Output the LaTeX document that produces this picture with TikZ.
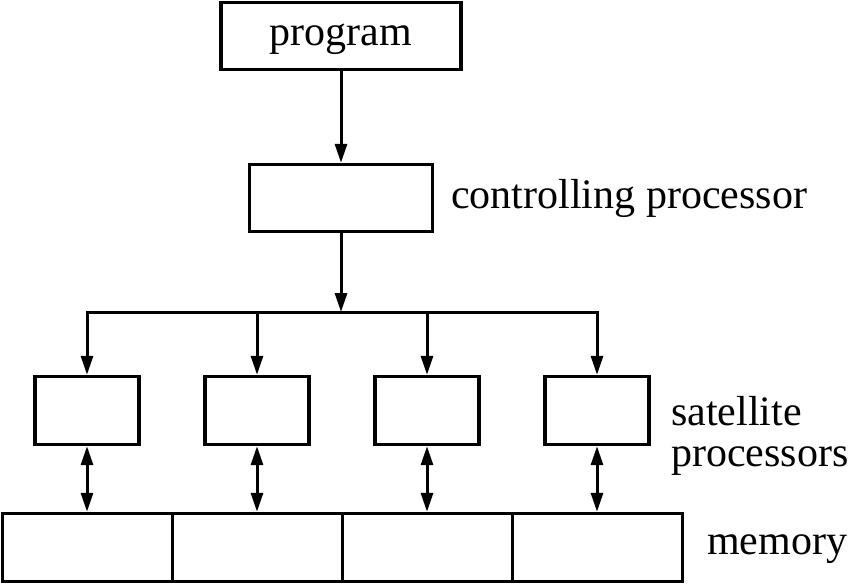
\documentclass[tikz,border=0pt]{standalone}
\usepackage{fontspec}
\setmainfont{Liberation Serif}
\usetikzlibrary{arrows.meta,positioning,calc}

\begin{document}
\begin{tikzpicture}[x=1pt,y=-1pt,
        bloque/.style={draw,line width=3.4pt,minimum height=67pt,inner sep=0pt,font=\fontsize{42}{41}\selectfont},
        etiqueta/.style={inner sep=0pt,font=\fontsize{42}{41}\selectfont},
        flecha/.style={-{Triangle[length=19pt,width=12pt]},line width=3pt},
        dobleflecha/.style={{Triangle[length=19pt,width=12pt]}-{Triangle[length=19pt,width=12pt]},line width=3pt}]
        \useasboundingbox (0,0) rectangle (850,584);
        \node[bloque,minimum width=240pt,text height=24pt,text depth=6pt] (prog) at (341,36) {program};
        \node[bloque,minimum width=183pt] (ctrl) at (341,198) {};
        \coordinate (bus) at (341,312);
        \foreach \i in {0,...,3} {
          \node[bloque,minimum width=104pt,minimum height=68pt] (sat\i) at (87+170*\i,410.5) {};
          \node[bloque,minimum width=170pt,minimum height=68pt] (mem\i) at (87.5+170*\i,547.5) {};
        }
        \node[etiqueta,anchor=base west] (ctrllab) at (451,208) {controlling processor};
        \node[etiqueta,anchor=west,align=left] (satlab) at (671,436) {satellite\\processors};
        \node[etiqueta,anchor=base west] (memlab) at (707,554) {memory};
        \draw[flecha] (prog) -- (ctrl);
        \draw[flecha] (ctrl) -- (bus);
        \draw[flecha] (bus) -| (sat0.north);
        \draw[flecha] (bus) -| (sat3.north);
        \draw[flecha] (bus -| sat1) -- (sat1);
        \draw[flecha] (bus -| sat2) -- (sat2);
        \foreach \i in {0,...,3}
          \draw[dobleflecha] (sat\i.south) -- (sat\i.south |- mem\i.north);
      \end{tikzpicture}
\end{document}
